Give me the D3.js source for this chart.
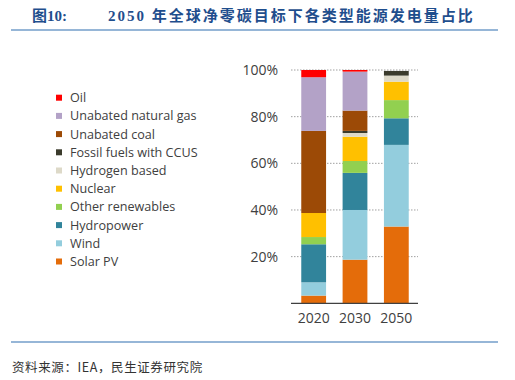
<!DOCTYPE html>
<html><head><meta charset="utf-8">
<script src="https://cdn.jsdelivr.net/npm/d3@7"></script>
<style>
html,body{margin:0;padding:0;background:#fff;}
svg{display:block;}
</style></head>
<body>
<svg id="c" width="515" height="380"></svg>
<script>
// ---- data ----
const years = ["2020", "2030", "2050"];
const seriesNames = ["Oil", "Unabated natural gas", "Unabated coal", "Fossil fuels with CCUS", "Hydrogen based", "Nuclear", "Other renewables", "Hydropower", "Wind", "Solar PV"];
const seriesColors = ["#ff0000", "#b3a2c7", "#9c4a06", "#3b3b2c", "#ddd9c8", "#ffc000", "#92d050", "#31849b", "#93cddd", "#e46c0a"];
const oil        = [3.1, 0.7, 0.0];
const gas        = [23.0, 16.7, 0.0];
const coal       = [35.2, 8.7, 0.0];
const ccus       = [0.0, 0.9, 2.0];
const hydrogen   = [0.0, 1.6, 2.6];
const nuclear    = [10.3, 10.4, 7.9];
const otherRen   = [3.1, 5.1, 7.8];
const hydro      = [16.3, 15.9, 11.4];
const wind       = [5.7, 21.3, 35.0];
const solar      = [3.3, 18.7, 32.9];
const yTicks = [0.2, 0.4, 0.6, 0.8, 1.0];
const yTickLabels = ["20%", "40%", "60%", "80%", "100%"];
const titleLabel = "图10:";
const titleText = "2050 年全球净零碳目标下各类型能源发电量占比";
const sourceText = "资料来源：IEA，民生证券研究院";

// ---- build table ----
const valuesBySeries = [oil, gas, coal, ccus, hydrogen, nuclear, otherRen, hydro, wind, solar];
const table = years.map((y, i) => {
  const row = {year: y};
  seriesNames.forEach((s, j) => row[s] = valuesBySeries[j][i] / 100);
  return row;
});
const stackKeys = seriesNames.slice().reverse(); // bottom to top: Solar PV ... Oil
const color = d3.scaleOrdinal(seriesNames, seriesColors);

const svg = d3.select("#c");

// ---- header ----
const blue = "#1f4e8d";
svg.append("text").attr("x", 32).attr("y", 21)
  .attr("font-family", "'Liberation Serif','Noto Sans CJK SC',serif")
  .attr("font-weight", "bold").attr("font-size", 15).attr("fill", blue)
  .text(titleLabel);
svg.append("text").attr("x", 108).attr("y", 21)
  .attr("font-family", "'Liberation Serif','Noto Sans CJK SC',serif")
  .attr("font-weight", "bold").attr("font-size", 15).attr("fill", blue)
  .attr("letter-spacing", 2)
  .text(titleText);
svg.append("line").attr("x1", 11).attr("x2", 498).attr("y1", 30).attr("y2", 30)
  .attr("stroke", "#2e6fb0").attr("stroke-width", 1.2);

// ---- chart ----
const x = d3.scaleBand().domain(years).range([293, 417]).paddingInner(0.4).paddingOuter(0.2);
const y = d3.scaleLinear().domain([0, 1]).range([303.3, 70]);

// gridlines
svg.append("g").selectAll("line").data(yTicks).join("line")
  .attr("x1", 291).attr("x2", 418)
  .attr("y1", d => y(d)).attr("y2", d => y(d))
  .attr("stroke", "#a0a0a0").attr("stroke-width", 1).attr("stroke-dasharray", "1.5,1.5");

// y tick labels
svg.append("g").selectAll("text").data(yTicks).join("text")
  .attr("x", 278).attr("y", d => y(d)).attr("dy", "0.35em")
  .attr("text-anchor", "end")
  .attr("font-family", "'Open Sans',sans-serif").attr("font-size", 14).attr("fill", "#404040")
  .text((d, i) => yTickLabels[i]);

// bars
const stacked = d3.stack().keys(stackKeys)(table);
svg.append("g").selectAll("g").data(stacked).join("g")
  .attr("fill", d => color(d.key))
  .selectAll("rect").data(d => d).join("rect")
  .attr("x", d => x(d.data.year))
  .attr("width", x.bandwidth())
  .attr("y", d => y(d[1]))
  .attr("height", d => Math.max(0, y(d[0]) - y(d[1])));

// x axis baseline
svg.append("line").attr("x1", 291).attr("x2", 418).attr("y1", y(0)).attr("y2", y(0))
  .attr("stroke", "#404040").attr("stroke-width", 1.2);

// x labels
svg.append("g").selectAll("text").data(years).join("text")
  .attr("x", d => x(d) + x.bandwidth() / 2).attr("y", 318).attr("dy", "0.35em")
  .attr("text-anchor", "middle")
  .attr("font-family", "'Open Sans',sans-serif").attr("font-size", 14).attr("fill", "#404040")
  .text(d => d);

// legend
const lg = svg.append("g").selectAll("g").data(seriesNames).join("g")
  .attr("transform", (d, i) => `translate(56, ${97.7 + i * 18.2})`);
lg.append("rect").attr("x", 0).attr("y", -3).attr("width", 6).attr("height", 6)
  .attr("fill", d => color(d));
lg.append("text").attr("x", 14).attr("y", 0).attr("dy", "0.35em")
  .attr("font-family", "'Open Sans',sans-serif").attr("font-size", 12.6).attr("fill", "#404040")
  .text(d => d);

// footer
svg.append("line").attr("x1", 11).attr("x2", 498).attr("y1", 342).attr("y2", 342)
  .attr("stroke", "#2e6fb0").attr("stroke-width", 1.2);
svg.append("text").attr("x", 12).attr("y", 368).attr("dy", "0.35em")
  .attr("font-family", "'Noto Sans CJK SC',sans-serif").attr("font-size", 12.5).attr("fill", "#333")
  .attr("letter-spacing", 0.6)
  .text(sourceText);
</script>
</body></html>
